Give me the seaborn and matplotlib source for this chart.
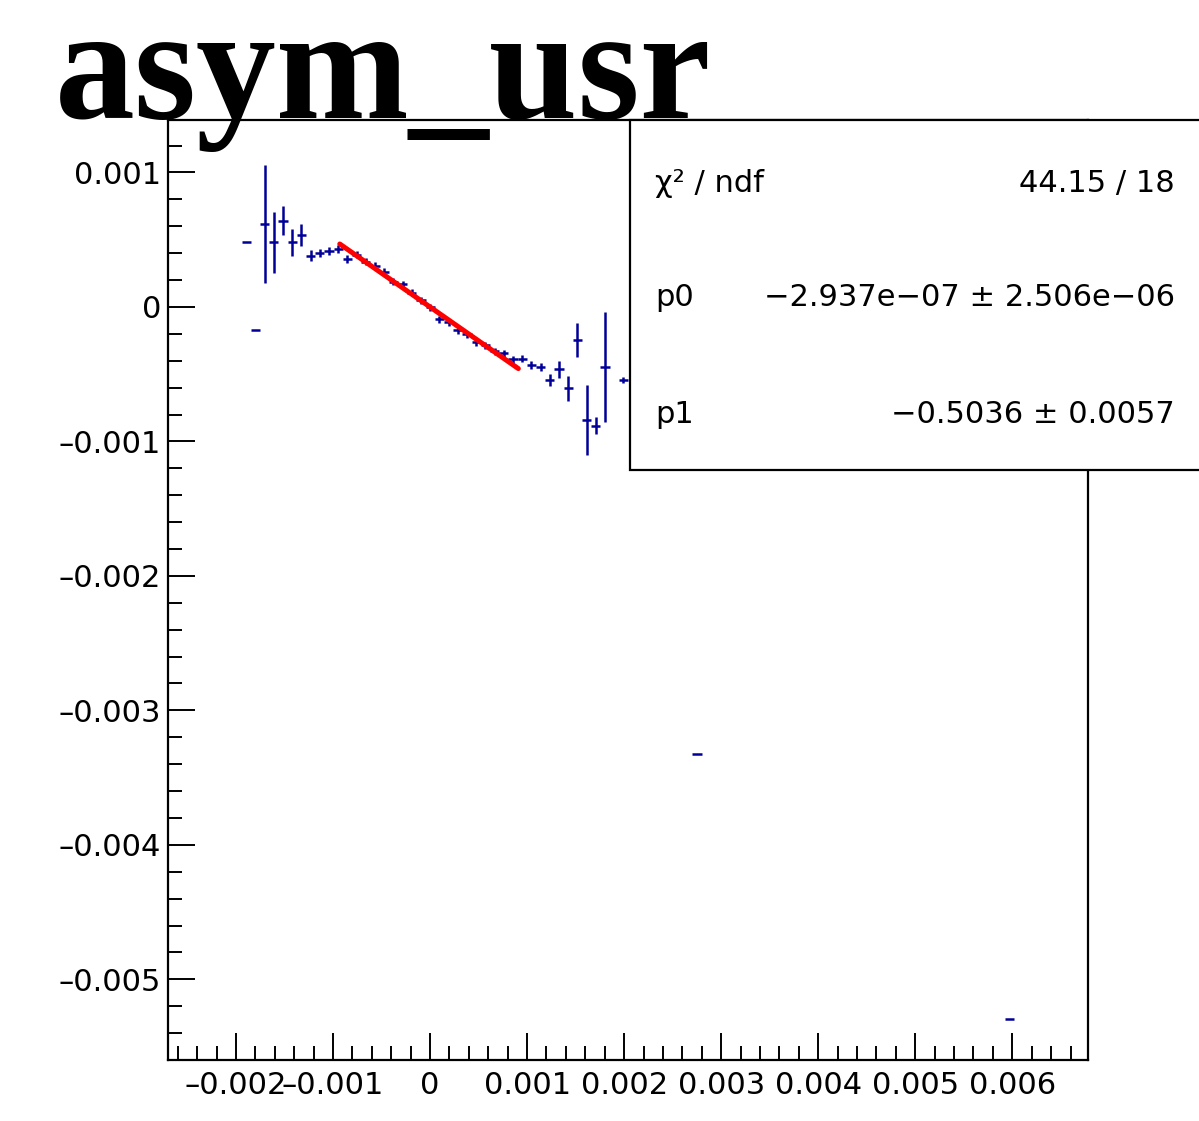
import numpy as np
import pandas as pd
import matplotlib
matplotlib.use("Agg")
import matplotlib.pyplot as plt
from matplotlib.patches import Rectangle
from matplotlib.ticker import MultipleLocator, FuncFormatter
import seaborn as sns

# Histogram binning (100 bins)
hist_xmin = -0.0027
hist_xmax = 0.00678
n_bins = 100

# Filled bins: index, content and error
bin_index = [8, 9, 10, 11, 12, 13, 14, 15, 16, 17, 18, 19, 20, 21, 22, 23, 24,
             25, 26, 27, 28, 29, 30, 31, 32, 33, 34, 35, 36, 37, 38, 39, 40,
             41, 42, 43, 44, 45, 46, 47, 49, 57, 91]
bin_content = [0.000480, -0.000169, 0.000616, 0.000480, 0.000641, 0.000480,
               0.000537, 0.000381, 0.000399, 0.000419, 0.000431, 0.000357,
               0.000389, 0.000337, 0.000307, 0.000263, 0.000189, 0.000167,
               0.000107, 0.000048, -0.000004, -0.000093, -0.000115, -0.000174,
               -0.000204, -0.000263, -0.000285, -0.000330, -0.000344,
               -0.000389, -0.000384, -0.000433, -0.000446, -0.000544,
               -0.000465, -0.000606, -0.000248, -0.000841, -0.000883,
               -0.000446, -0.000544, -0.003324, -0.005294]
bin_error = [0.0, 0.0, 0.000440, 0.000225, 0.000107, 0.000101, 0.000083,
             0.000040, 0.000030, 0.000030, 0.000030, 0.000030, 0.000025,
             0.000025, 0.000025, 0.000025, 0.000025, 0.000025, 0.000025,
             0.000025, 0.000025, 0.000025, 0.000025, 0.000025, 0.000025,
             0.000025, 0.000025, 0.000025, 0.000025, 0.000025, 0.000025,
             0.000030, 0.000030, 0.000047, 0.000064, 0.000096, 0.000126,
             0.000263, 0.000062, 0.000410, 0.000020, 0.0, 0.0]

# Linear fit result pol1: p0 + p1*x
fit_p0 = -2.937e-07
fit_p1 = -0.5036
fit_range = (-0.00093, 0.00091)
stats_rows = [("χ² / ndf", "44.15 / 18"),
              ("p0", "−2.937e−07 ± 2.506e−06"),
              ("p1", "−0.5036 ± 0.0057")]

sns.set_theme(style="white")
plt.rcParams["font.family"] = ["DejaVu Sans"]
for key in ("text.color", "axes.labelcolor", "xtick.color", "ytick.color",
            "axes.edgecolor"):
    plt.rcParams[key] = "black"

W, H = 1199, 1121
fig = plt.figure(figsize=(W / 100, H / 100), dpi=100)
ax = fig.add_axes([168 / W, (H - 1060) / H, 920 / W, 940 / H])

bin_w = (hist_xmax - hist_xmin) / n_bins
df = pd.DataFrame({"bin": bin_index, "y": bin_content, "err": bin_error})
df["x"] = hist_xmin + (df["bin"] + 0.5) * bin_w

navy = "#000099"
ax.errorbar(df["x"], df["y"], xerr=bin_w / 2, yerr=df["err"], fmt="none",
            ecolor=navy, elinewidth=1.8, capsize=0, zorder=3)

fx = np.linspace(fit_range[0], fit_range[1], 200)
fit_df = pd.DataFrame({"x": fx, "y": fit_p0 + fit_p1 * fx})
sns.lineplot(data=fit_df, x="x", y="y", ax=ax, color="#ff0000",
             linewidth=3.6, zorder=4, legend=False)

ax.set_xlim(hist_xmin, hist_xmax)
ax.set_ylim(-0.0056, 0.00139)
ax.set_xlabel("")
ax.set_ylabel("")


def fmt(v, pos):
    if abs(v) < 1e-12:
        return "0"
    s = f"{v:.3f}"
    return s.replace("-", "\u2013")


for axis in (ax.xaxis, ax.yaxis):
    axis.set_major_locator(MultipleLocator(0.001))
    axis.set_minor_locator(MultipleLocator(0.0002))
    axis.set_major_formatter(FuncFormatter(fmt))

ax.tick_params(which="both", direction="in", top=False, right=False,
               bottom=True, left=True, width=1.4, color="black",
               labelcolor="black")
ax.tick_params(which="major", length=19.5)
ax.tick_params(which="minor", length=9.8)
ax.tick_params(axis="x", which="major", labelsize=22, pad=8)
ax.tick_params(axis="y", which="major", labelsize=22, pad=5)
for sp in ax.spines.values():
    sp.set_color("black")
    sp.set_linewidth(1.6)

# Statistics box in the upper right corner
box = Rectangle((630 / W, (H - 470) / H), (W - 630) / W + 0.02, 350 / H,
                transform=fig.transFigure, facecolor="white",
                edgecolor="black", linewidth=1.6, zorder=10)
fig.patches.append(box)
baselines = [192, 306, 423]
for (name, val), yb in zip(stats_rows, baselines):
    fig.text(655 / W, (H - yb) / H, name, ha="left", va="baseline",
             fontsize=22, color="black", zorder=11)
    fig.text(1175 / W, (H - yb) / H, val, ha="right", va="baseline",
             fontsize=22, color="black", zorder=11)

# Histogram title
fig.text(55 / W, (H - 118) / H, "asym_usr", ha="left", va="baseline",
         fontsize=115, fontweight="bold", family="Liberation Serif",
         color="black", zorder=12)

fig.savefig("out.png", dpi=100, facecolor="white")
